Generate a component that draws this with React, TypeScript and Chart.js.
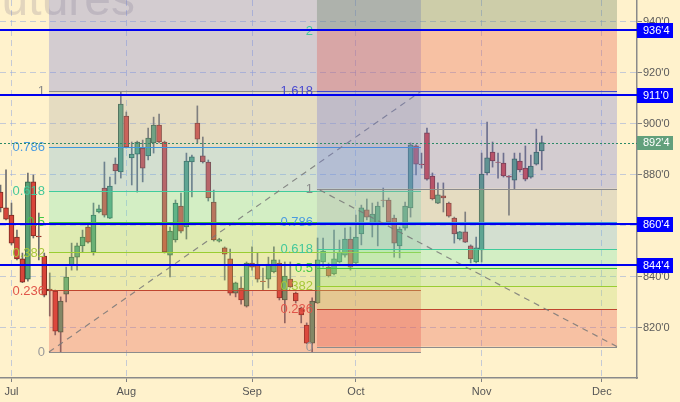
import React, { useEffect, useRef } from 'react';
import { Chart, registerables } from 'chart.js';

Chart.register(...registerables);

// ---- Data (daily candles, index 1..100) ----
const candleOpen = [
  873.1, 866.9, 864.1, 855.5, 846.9, 839.0, 877.1, 855.9, 848.0, 835.1,
  834.3, 818.2, 833.1, 844.5, 847.6, 852.0, 859.4, 849.6, 865.3, 874.7,
  862.9, 884.1, 881.0, 902.9, 886.5, 888.0, 890.4, 887.3, 892.4, 899.4,
  892.75, 848.4, 854.3, 867.6, 859.4, 884.9, 900.2, 887.3, 884.9, 869.2,
  853.9, 851.2, 846.9, 833.5, 835.5, 828.4, 845.3, 844.5, 838.2, 839.0,
  841.8, 845.3, 830.8, 839.0, 833.5, 827.6, 821.0, 813.9, 829.6, 845.7,
  843.7, 841.0, 845.7, 848.4, 854.7, 845.3, 856.7, 866.1, 860.2, 860.2,
  870.0, 870.0, 862.9, 852.0, 859.0, 866.9, 891.2, 884.1, 896.3, 879.4,
  868.8, 871.6, 868.8, 862.9, 854.7, 857.5, 852.0, 845.7, 850.4, 880.6,
  888.8, 884.9, 884.5, 879.4, 877.8, 885.3, 882.5, 879.0, 884.1, 889.2,
];
const candleHigh = [
  875.9, 881.8, 868.8, 858.2, 849.2, 880.6, 879.8, 864.9, 849.2, 841.4,
  834.7, 832.0, 843.7, 853.1, 853.1, 858.2, 860.2, 868.8, 868.0, 884.9,
  879.0, 886.5, 912.4, 904.5, 892.75, 893.1, 893.5, 898.2, 902.5, 903.7,
  893.1, 859.4, 870.0, 872.7, 888.4, 887.6, 906.9, 894.7, 885.7, 873.9,
  855.0, 851.6, 850.8, 837.8, 839.8, 845.7, 851.6, 849.2, 843.3, 847.6,
  851.6, 846.5, 845.7, 845.7, 833.9, 828.0, 821.8, 831.6, 855.1, 855.1,
  845.3, 858.2, 854.3, 859.0, 859.4, 864.1, 868.0, 870.4, 868.8, 869.2,
  874.7, 870.8, 864.1, 859.4, 869.2, 892.4, 891.6, 888.4, 898.2, 880.6,
  876.7, 876.7, 869.2, 863.3, 857.7, 865.3, 852.4, 855.5, 888.4, 900.6,
  892.75, 888.4, 888.4, 879.6, 888.4, 888.4, 891.2, 887.6, 897.8, 895.1,
];
const candleLow = [
  865.3, 862.2, 852.4, 846.5, 837.6, 838.2, 855.1, 846.5, 832.0, 824.5,
  817.1, 810.4, 830.0, 842.5, 842.5, 849.6, 853.1, 848.4, 864.9, 863.3,
  862.7, 876.3, 878.6, 890.4, 875.9, 873.1, 877.1, 885.7, 888.4, 892.4,
  849.2, 839.8, 853.5, 857.1, 854.7, 871.2, 892.4, 884.5, 869.6, 853.9,
  853.5, 838.6, 832.7, 832.0, 829.2, 828.0, 842.5, 837.8, 834.7, 835.5,
  841.4, 830.8, 821.8, 835.7, 829.6, 821.8, 813.7, 810.4, 829.4, 843.7,
  839.8, 840.6, 845.3, 847.6, 842.5, 844.5, 852.4, 862.2, 855.5, 852.0,
  867.3, 861.0, 847.6, 847.3, 858.2, 863.3, 879.8, 882.5, 877.8, 870.0,
  868.6, 865.3, 863.3, 853.1, 854.3, 853.3, 845.3, 845.3, 845.7, 879.8,
  882.9, 878.6, 879.0, 864.1, 874.3, 881.0, 877.5, 878.6, 883.7, 881.8,
];
const candleClose = [
  866.9, 862.5, 853.1, 846.9, 837.8, 877.1, 855.9, 855.5, 832.7, 834.3,
  818.6, 830.4, 839.8, 847.6, 852.0, 855.5, 853.5, 864.1, 866.5, 864.1,
  875.5, 881.4, 907.6, 890.8, 888.0, 892.75, 882.5, 894.3, 899.4, 892.75,
  849.6, 857.8, 868.8, 857.8, 885.3, 886.9, 893.9, 884.9, 870.8, 854.3,
  854.5, 848.8, 833.5, 837.5, 830.8, 845.3, 843.7, 839.0, 838.0, 844.9,
  846.5, 831.6, 840.2, 835.9, 830.4, 824.9, 813.9, 830.4, 846.5, 850.0,
  840.2, 846.9, 849.6, 854.7, 843.7, 855.5, 866.9, 863.3, 864.5, 867.6,
  869.8, 861.4, 853.1, 858.6, 867.6, 891.6, 884.1, 883.9, 878.2, 870.4,
  872.0, 870.8, 863.7, 856.7, 857.5, 853.5, 846.9, 851.2, 880.2, 886.5,
  885.3, 884.7, 879.4, 879.0, 886.1, 881.8, 878.2, 883.3, 888.8, 892.5,
];

// ---- Axes ----
const monthTickPositions = [3, 24, 47, 66, 89, 111];
const monthLabels = ['Jul', 'Aug', 'Sep', 'Oct', 'Nov', 'Dec'];
const priceTicks = [820, 840, 860, 880, 900, 920, 940];
const xRange = [0.9, 117.42];
const yRange = [800.2, 948.43];

// ---- Fibonacci retracements ----
const fibLevels = [0, 0.236, 0.382, 0.5, 0.618, 0.786, 1, 1.618, 2, 2.618];
const fibLevelText = ['0', '0.236', '0.382', '0.5', '0.618', '0.786', '1', '1.618', '2', '2.618'];
const fibLineColors = ['#8c8c8c', '#c0452f', '#9acd32', '#3cc83c', '#40cc9c', '#3c96dc', '#8c8c8c', '#4048d0', '#3cc8a0', '#c04040'];
const fibTextColors = ['#9a9a9a', '#e0554a', '#a6c83a', '#44c844', '#44c89a', '#4a9be0', '#8a8a8a', '#4a4ad0', '#44c8a0', '#c04040'];
const fibZoneColors = [
  '',
  'rgba(230,80,70,0.3)',
  'rgba(190,220,110,0.3)',
  'rgba(150,220,120,0.3)',
  'rgba(110,230,180,0.3)',
  'rgba(110,180,220,0.3)',
  'rgba(170,170,170,0.3)',
  'rgba(110,115,220,0.3)',
  'rgba(230,80,70,0.3)',
  'rgba(90,120,90,0.3)',
];
// anchors: [index, price] for level 0 and level 1
const leftFibLevel0 = [9.86, 810.4];
const leftFibLevel1 = [77.9, 912.6];
const rightFibLevel0 = [113.76, 812.5];
const rightFibLevel1 = [58.88, 874.5];

// ---- Horizontal levels ----
const hLinePrices = [936.5, 911.0, 860.5, 844.5];
const lastPrice = 892.5;

const CREAM = '#fff2cc';
const FONT = '"Liberation Sans", Arial, sans-serif';

function fmtPrice(p: number) {
  const whole = Math.floor(p + 1e-9);
  const eighths = Math.round((p - whole) * 8);
  return `${whole}'${eighths}`;
}

function drawFib(ctx: CanvasRenderingContext2D, area: any, xs: any, ys: any, a0: number[], a1: number[]) {
  const xl = xs.getPixelForValue(Math.min(a0[0], a1[0]));
  const xr = xs.getPixelForValue(Math.max(a0[0], a1[0]));
  const p0 = a0[1];
  const p1 = a1[1];
  const py = fibLevels.map((l) => ys.getPixelForValue(p0 + (p1 - p0) * l));
  ctx.save();
  ctx.beginPath();
  ctx.rect(area.left, area.top, area.right - area.left, area.bottom - area.top);
  ctx.clip();
  for (let k = 1; k < fibLevels.length; k++) {
    ctx.fillStyle = fibZoneColors[k];
    ctx.fillRect(xl, py[k], xr - xl, py[k - 1] - py[k]);
  }
  ctx.lineWidth = 1;
  for (let k = 0; k < fibLevels.length; k++) {
    ctx.strokeStyle = fibLineColors[k];
    const yy = Math.round(py[k]) + 0.5;
    ctx.beginPath();
    ctx.moveTo(xl, yy);
    ctx.lineTo(xr, yy);
    ctx.stroke();
  }
  // diagonal trend line between anchors
  ctx.strokeStyle = 'rgba(120,120,120,0.85)';
  ctx.lineWidth = 1.2;
  ctx.setLineDash([6, 5]);
  ctx.beginPath();
  ctx.moveTo(xs.getPixelForValue(a0[0]), ys.getPixelForValue(a0[1]));
  ctx.lineTo(xs.getPixelForValue(a1[0]), ys.getPixelForValue(a1[1]));
  ctx.stroke();
  ctx.setLineDash([]);
  ctx.restore();
  return { xl, py };
}

function drawFibLabels(ctx: CanvasRenderingContext2D, area: any, xl: number, py: number[]) {
  ctx.save();
  ctx.font = `13px ${FONT}`;
  ctx.textAlign = 'right';
  ctx.textBaseline = 'middle';
  for (let k = 0; k < fibLevels.length; k++) {
    if (py[k] < area.top + 4 || py[k] > area.bottom) continue;
    ctx.fillStyle = fibTextColors[k];
    ctx.fillText(fibLevelText[k], xl - 4, py[k] + 0.5);
  }
  ctx.restore();
}

const overlayPlugin = {
  id: 'overlay',
  beforeDraw(chart: any) {
    const { ctx, width, height } = chart;
    ctx.save();
    ctx.fillStyle = CREAM;
    ctx.fillRect(0, 0, width, height);
    ctx.restore();
  },
  afterDatasetsDraw(chart: any) {
    const { ctx, chartArea: area, scales } = chart;
    const xs = scales.x;
    const ys = scales.y;
    const L = drawFib(ctx, area, xs, ys, leftFibLevel0, leftFibLevel1);
    const R = drawFib(ctx, area, xs, ys, rightFibLevel0, rightFibLevel1);

    // watermark
    ctx.save();
    ctx.beginPath();
    ctx.rect(area.left, area.top, area.right - area.left, area.bottom - area.top);
    ctx.clip();
    ctx.font = `48px ${FONT}`;
    ctx.fillStyle = 'rgba(110,100,130,0.2)';
    ctx.textAlign = 'right';
    ctx.textBaseline = 'alphabetic';
    ctx.fillText('Futures', 135, 15);
    ctx.restore();

    drawFibLabels(ctx, area, L.xl, L.py);
    drawFibLabels(ctx, area, R.xl, R.py);

    // last price dotted line
    ctx.save();
    const ly = Math.round(ys.getPixelForValue(lastPrice)) + 0.5;
    ctx.strokeStyle = '#2b8a68';
    ctx.lineWidth = 1;
    ctx.setLineDash([2, 2]);
    ctx.beginPath();
    ctx.moveTo(area.left, ly);
    ctx.lineTo(area.right, ly);
    ctx.stroke();
    ctx.restore();

    // blue horizontal lines
    ctx.save();
    ctx.strokeStyle = '#0000f0';
    ctx.lineWidth = 2;
    hLinePrices.forEach((p) => {
      const yy = Math.round(ys.getPixelForValue(p));
      ctx.beginPath();
      ctx.moveTo(area.left, yy);
      ctx.lineTo(area.right, yy);
      ctx.stroke();
    });
    ctx.restore();
  },
  afterDraw(chart: any) {
    const { ctx, chartArea: area, scales } = chart;
    const ys = scales.y;
    const boxX = area.right;
    const boxW = 36;
    const drawBox = (p: number, fill: string, h: number) => {
      const yy = ys.getPixelForValue(p);
      ctx.fillStyle = fill;
      ctx.fillRect(boxX, Math.round(yy - h / 2), boxW, h);
      ctx.fillStyle = '#ffffff';
      ctx.font = `11px ${FONT}`;
      ctx.textAlign = 'left';
      ctx.textBaseline = 'middle';
      ctx.fillText(fmtPrice(p), boxX + 6, yy + 0.5);
    };
    ctx.save();
    hLinePrices.forEach((p) => drawBox(p, '#0000ff', 15));
    drawBox(lastPrice, '#62a07c', 14);
    ctx.restore();
  },
};

export default function App() {
  const canvasRef = useRef<HTMLCanvasElement | null>(null);

  useEffect(() => {
    const canvas = canvasRef.current;
    if (!canvas) return;
    const idx = candleOpen.map((_, i) => i + 1);
    const bodyData = idx.map((x, i) => ({ x, y: [candleOpen[i], candleClose[i]] }));
    const wickData = idx.map((x, i) => ({ x, y: [candleLow[i], candleHigh[i]] }));
    const isUp = candleClose.map((c, i) => c >= candleOpen[i]);

    const chart = new Chart(canvas, {
      type: 'bar',
      data: {
        datasets: [
          {
            data: wickData as any,
            backgroundColor: '#6e6e6e',
            borderWidth: 0,
            barThickness: 1,
            grouped: false,
            order: 2,
          } as any,
          {
            data: bodyData as any,
            backgroundColor: isUp.map((u) => (u ? '#5a9f74' : '#d8453a')),
            borderColor: isUp.map((u) => (u ? '#2f5e42' : '#7c2a20')),
            borderWidth: 1,
            borderSkipped: false,
            barThickness: 5,
            grouped: false,
            order: 1,
          } as any,
        ],
      },
      options: {
        responsive: false,
        devicePixelRatio: 1,
        animation: false,
        events: [],
        layout: { padding: 0 },
        plugins: { legend: { display: false }, tooltip: { enabled: false } },
        scales: {
          x: {
            type: 'linear',
            position: 'bottom',
            min: xRange[0],
            max: xRange[1],
            offset: false,
            afterBuildTicks: (scale: any) => {
              scale.ticks = monthTickPositions.map((v) => ({ value: v }));
            },
            afterFit: (scale: any) => {
              scale.height = 24;
              scale.paddingLeft = 0;
              scale.paddingRight = 0;
              scale.paddingTop = 0;
              scale.paddingBottom = 0;
            },
            ticks: {
              autoSkip: false,
              maxRotation: 0,
              padding: 3,
              color: '#555555',
              font: { family: FONT, size: 11 },
              callback: (_v: any, i: number) => monthLabels[i],
            },
            grid: {
              offset: false,
              color: 'rgba(150,170,220,0.55)',
              lineWidth: 1,
              tickLength: 4,
              tickColor: '#808080',
              drawTicks: true,
            },
            border: { display: true, color: '#8a8a8a', width: 1.5, dash: [6, 4] },
          } as any,
          y: {
            type: 'linear',
            position: 'right',
            min: yRange[0],
            max: yRange[1],
            afterBuildTicks: (scale: any) => {
              scale.ticks = priceTicks.map((v) => ({ value: v }));
            },
            afterFit: (scale: any) => {
              scale.width = 43;
              scale.paddingLeft = 0;
              scale.paddingRight = 0;
              scale.paddingTop = 0;
              scale.paddingBottom = 0;
            },
            ticks: {
              padding: 1,
              color: '#5a5a5a',
              font: { family: FONT, size: 11 },
              callback: (v: any) => fmtPrice(Number(v)),
            },
            grid: {
              color: 'rgba(150,170,220,0.55)',
              lineWidth: 1,
              tickLength: 5,
              tickColor: '#808080',
              drawTicks: true,
            },
            border: { display: true, color: '#8a8a8a', width: 1.5, dash: [6, 4] },
          } as any,
        },
      },
      plugins: [overlayPlugin as any],
    });

    return () => {
      chart.destroy();
    };
  }, []);

  return (
    <div style={{ position: 'absolute', left: 0, top: 0, width: 680, height: 402, background: CREAM }}>
      <canvas ref={canvasRef} width={680} height={402} style={{ display: 'block' }} />
    </div>
  );
}
